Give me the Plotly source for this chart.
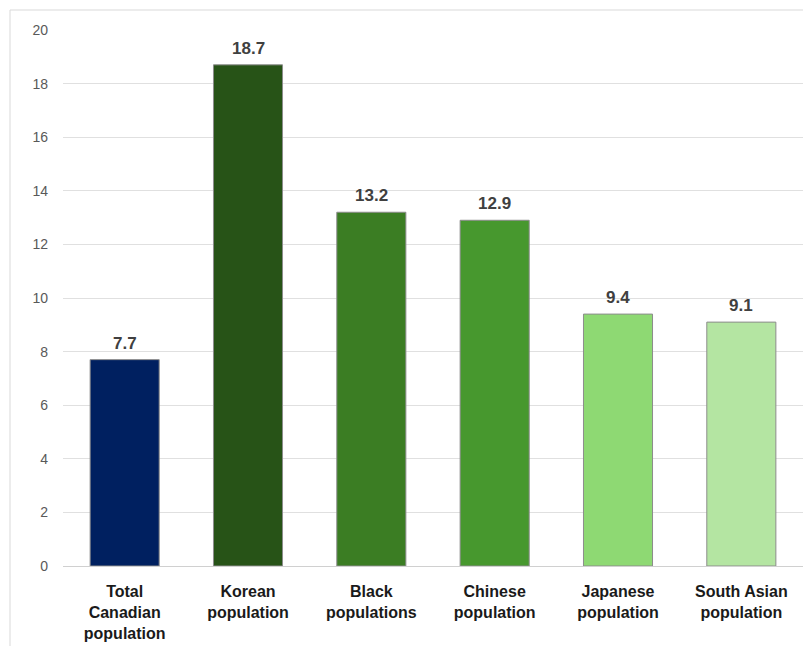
import plotly.graph_objects as go

categories = ["Total<br>Canadian<br>population", "Korean<br>population", "Black<br>populations",
              "Chinese<br>population", "Japanese<br>population", "South Asian<br>population"]
values = [7.7, 18.7, 13.2, 12.9, 9.4, 9.1]
colors = ["#002060", "#275317", "#3B7D23", "#47982E", "#8ED973", "#B4E5A2"]
y_ticks = [0, 2, 4, 6, 8, 10, 12, 14, 16, 18, 20]

fig = go.Figure(go.Bar(
    x=categories, y=values,
    marker=dict(color=colors, line=dict(color="#8C8C8C", width=1)),
    width=0.56,
    cliponaxis=False,
))

for c, v in zip(categories, values):
    fig.add_annotation(x=c, y=v, text=f"<b>{v:.1f}</b>", showarrow=False,
                       yanchor="bottom", yshift=5,
                       font=dict(family="Liberation Sans, Arial", size=17, color="#404040"))

fig.update_layout(
    width=803, height=646,
    margin=dict(l=63, r=0, t=30, b=80),
    paper_bgcolor="white", plot_bgcolor="white",
    showlegend=False,
    xaxis=dict(
        tickfont=dict(family="Liberation Sans, Arial", size=16, color="#1a1a1a", weight="bold"),
        showgrid=False, showline=False, ticks="", ticklen=0, ticklabelstandoff=14,
    ),
    yaxis=dict(
        range=[0, 20], tickvals=y_ticks,
        tickfont=dict(family="Liberation Sans, Arial", size=14, color="#595959"),
        showgrid=True, gridcolor="#E0E0E0", gridwidth=1,
        zeroline=True, zerolinecolor="#D0D0D0", zerolinewidth=1,
        ticks="", ticklabelstandoff=14,
    ),
    shapes=[dict(type="rect", xref="paper", yref="paper",
                 x0=(10 - 63) / 740, x1=1.01, y0=-0.25, y1=1 + 20 / 536,
                 line=dict(color="#D9D9D9", width=1), layer="below")],
)

fig.write_html("out.html")
